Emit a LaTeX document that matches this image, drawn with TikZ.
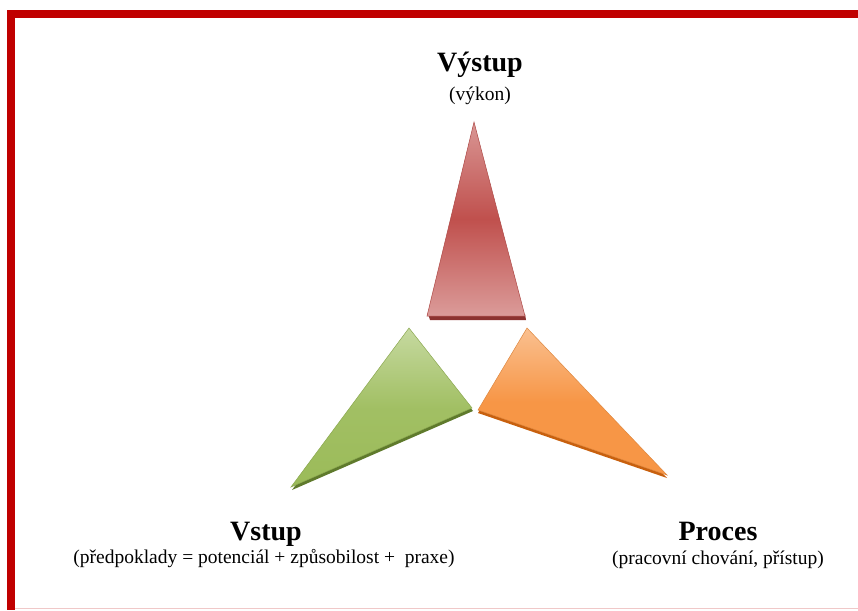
\documentclass[tikz,border=0pt]{standalone}
\usepackage{fontspec}
\setmainfont{Liberation Serif}
\definecolor{frame}{HTML}{C00000}
\definecolor{framelow}{HTML}{F0C8C8}
\definecolor{redA}{HTML}{D99694}
\definecolor{redB}{HTML}{C0504D}
\definecolor{redS}{HTML}{8C3230}
\definecolor{greenA}{HTML}{C6D9A0}
\definecolor{greenB}{HTML}{9BBB59}
\definecolor{greenS}{HTML}{5F7A2C}
\definecolor{orangeA}{HTML}{FAC090}
\definecolor{orangeB}{HTML}{F79646}
\definecolor{orangeS}{HTML}{C8600E}
\begin{document}
\begin{tikzpicture}[x=1pt,y=-1pt,
		title/.style={anchor=base,inner sep=0pt,font=\fontsize{28}{30}\selectfont\bfseries},
		note/.style={anchor=base,inner sep=0pt,font=\fontsize{19.5}{22}\selectfont}]
	\useasboundingbox (0,0) rectangle (858,610);
	% frame
	\fill[frame] (7,10) rectangle (858,18);
	\fill[frame] (7,10) rectangle (15,610);
	\draw[framelow] (15,608.5) -- (858,608.5);
	% output
	\fill[redS] (428,314) -- (525,314) -- (526,320) -- (430,320) -- cycle;
	\shade[top color=redA,bottom color=redA!95!white,middle color=redB,draw=redB!90!black,line width=0.5pt]
		(474,122) -- (525,316) -- (427,316) -- cycle;
	% input
	\fill[greenS] ([shift={(1,3)}]409,328) -- ([shift={(1,3)}]472,408) -- ([shift={(1,3)}]291,487) -- cycle;
	\shade[top color=greenA,bottom color=greenB,middle color=greenB!85!greenA,draw=greenB!90!black,line width=0.5pt]
		(409,328) -- (472,408) -- (291,487) -- cycle;
	% process
	\fill[orangeS] ([shift={(0,3)}]527,328) -- ([shift={(0,3)}]667,475) -- ([shift={(0,3)}]478,410) -- cycle;
	\shade[top color=orangeA,bottom color=orangeB,middle color=orangeB,draw=orangeB!90!black,line width=0.5pt]
		(527,328) -- (667,475) -- (478,410) -- cycle;
	% labels
	\node[title] (out) at (480,71) {Výstup};
	\node[note] (outnote) at (480,100) {(výkon)};
	\node[title] (in) at (266,540) {Vstup};
	\node[note] (innote) at (264,563) {(předpoklady = potenciál + způsobilost + \ praxe)};
	\node[title] (proc) at (718,540) {Proces};
	\node[note] (procnote) at (718,564) {(pracovní chování, přístup)};
\end{tikzpicture}
\end{document}
